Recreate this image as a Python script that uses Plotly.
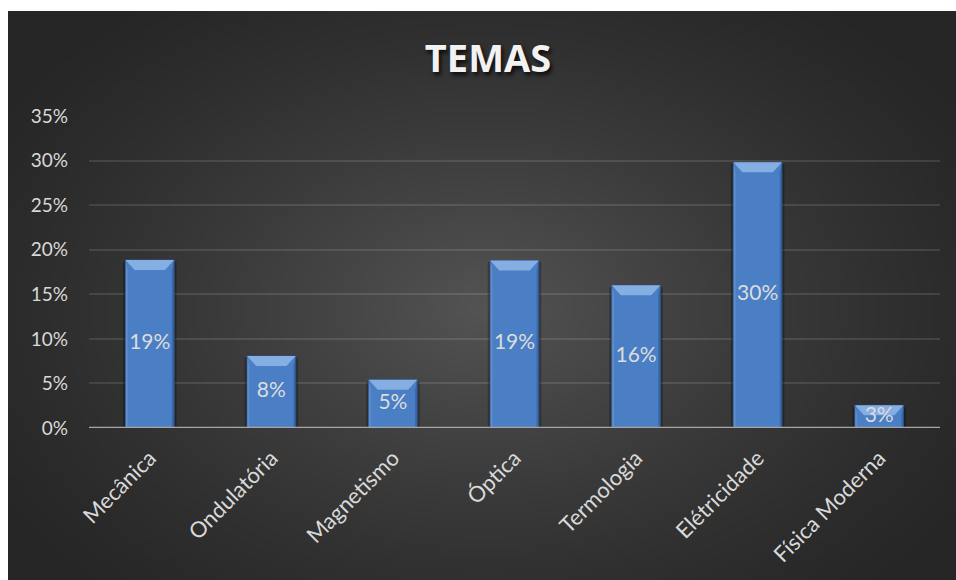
import base64
import struct
import zlib

import numpy as np
import plotly.graph_objects as go

# Share of questions per physics topic
categories = ["Mecânica", "Ondulatória", "Magnetismo", "Óptica",
              "Termologia", "Elétricidade", "Física Moderna"]
shares = [0.1885, 0.0808, 0.054, 0.188, 0.160, 0.298, 0.0254]
y_ticks = [0, 0.05, 0.10, 0.15, 0.20, 0.25, 0.30, 0.35]

W, H = 956, 580
ML, MR, MT, MB = 89, 16, 116, 152
PW, PH = W - ML - MR, H - MT - MB


def radial_png(w, h):
    """Dark charcoal backdrop, lighter towards the middle."""
    yy, xx = np.mgrid[0:h, 0:w]
    cx, cy = w * 0.50, h * 0.52
    r = np.sqrt(((xx - cx) / (w * 0.62)) ** 2 + ((yy - cy) / (h * 0.70)) ** 2)
    t = np.clip(1 - r, 0, 1) ** 1.3
    v = (38 + 46 * t).astype(np.uint8)
    raw = b"".join(b"\x00" + bytes(np.stack([row, row, row], -1).ravel()) for row in v)

    def chunk(tag, data):
        c = struct.pack(">I", len(data)) + tag + data
        return c + struct.pack(">I", zlib.crc32(tag + data) & 0xFFFFFFFF)

    png = b"\x89PNG\r\n\x1a\n"
    png += chunk(b"IHDR", struct.pack(">IIBBBBB", w, h, 8, 2, 0, 0, 0))
    png += chunk(b"IDAT", zlib.compress(raw, 9))
    png += chunk(b"IEND", b"")
    return "data:image/png;base64," + base64.b64encode(png).decode()


xs = list(range(len(categories)))
half = 0.2          # half bar width in category units
bevel_dx = 0.075    # bevel inset (category units)
bevel_dy = 0.0112   # bevel depth (value units)

fig = go.Figure()

# soft shadow behind the bars
fig.add_trace(go.Bar(
    x=xs, y=shares, width=0.44, base=-0.002,
    marker=dict(color="rgba(0,0,0,0.28)", line=dict(width=0)),
    hoverinfo="skip", showlegend=False,
))

# bar bodies
fig.add_trace(go.Bar(
    x=xs, y=shares, width=2 * half,
    marker=dict(color="#4a7fc6", line=dict(color="#2e5387", width=1)),
    hoverinfo="skip", showlegend=False,
))

# bevel facets on each bar
for x, v in zip(xs, shares):
    d = min(bevel_dy, v * 0.45)
    # top facet (light)
    fig.add_trace(go.Scatter(
        x=[x - half, x + half, x + half - bevel_dx, x - half + bevel_dx, x - half],
        y=[v, v, v - d, v - d, v],
        fill="toself", fillcolor="#85aee3", mode="lines",
        line=dict(width=0), hoverinfo="skip", showlegend=False,
    ))
    # left facet
    fig.add_trace(go.Scatter(
        x=[x - half, x - half + bevel_dx * 0.25, x - half + bevel_dx * 0.25, x - half],
        y=[v, v - d, 0, 0],
        fill="toself", fillcolor="rgba(120,160,215,0.45)", mode="lines",
        line=dict(width=0), hoverinfo="skip", showlegend=False,
    ))
    # right facet
    fig.add_trace(go.Scatter(
        x=[x + half, x + half - bevel_dx * 0.25, x + half - bevel_dx * 0.25, x + half],
        y=[v, v - d, 0, 0],
        fill="toself", fillcolor="rgba(40,80,140,0.45)", mode="lines",
        line=dict(width=0), hoverinfo="skip", showlegend=False,
    ))

# value labels centred in each bar
fig.add_trace(go.Scatter(
    x=xs, y=[v / 2 for v in shares], mode="text",
    text=[f"{v:.0%}" for v in shares],
    textfont=dict(family="Lato", size=21, color="#dcdcdc"),
    hoverinfo="skip", showlegend=False,
))

fig.update_layout(
    width=W, height=H,
    margin=dict(l=ML, r=MR, t=MT, b=MB, pad=0),
    paper_bgcolor="white",
    plot_bgcolor="rgba(0,0,0,0)",
    barmode="overlay",
    showlegend=False,
    title=dict(
        text="<b>TEMAS</b>",
        x=(488 - ML) / PW, xref="paper", xanchor="center",
        y=(H - 59) / H, yref="container", yanchor="middle",
        font=dict(family="Open Sans", size=38, color="#f2f2f2",
                  shadow="2px 3px 4px rgba(0,0,0,0.8)"),
    ),
    xaxis=dict(
        range=[-0.5, len(categories) - 0.5],
        tickmode="array", tickvals=xs, ticktext=categories,
        tickangle=-45, showgrid=False, zeroline=False,
        showline=False, ticks="", ticklabelstandoff=12,
        tickfont=dict(family="Lato", size=22, color="#d9d9d9"),
    ),
    yaxis=dict(
        range=[0, 0.35], tickvals=y_ticks, tickformat=".0%",
        showgrid=True, gridcolor="rgba(255,255,255,0.11)", gridwidth=1.5,
        zeroline=False, showline=False, ticks="",
        ticklabelstandoff=20,
        tickfont=dict(family="Lato", size=19, color="#d9d9d9"),
    ),
    shapes=[dict(
        type="line", xref="paper", yref="y",
        x0=0, x1=1, y0=0, y1=0,
        line=dict(color="#a6a6a6", width=2.5), layer="above",
    )],
    images=[dict(
        source=radial_png(240, 144),
        xref="paper", yref="paper",
        x=(8 - ML) / PW, y=(H - MB - 11) / PH,
        sizex=(W - 8) / PW, sizey=(H - 11) / PH,
        xanchor="left", yanchor="top",
        sizing="stretch", layer="below",
    )],
)

fig.write_html("out.html")
